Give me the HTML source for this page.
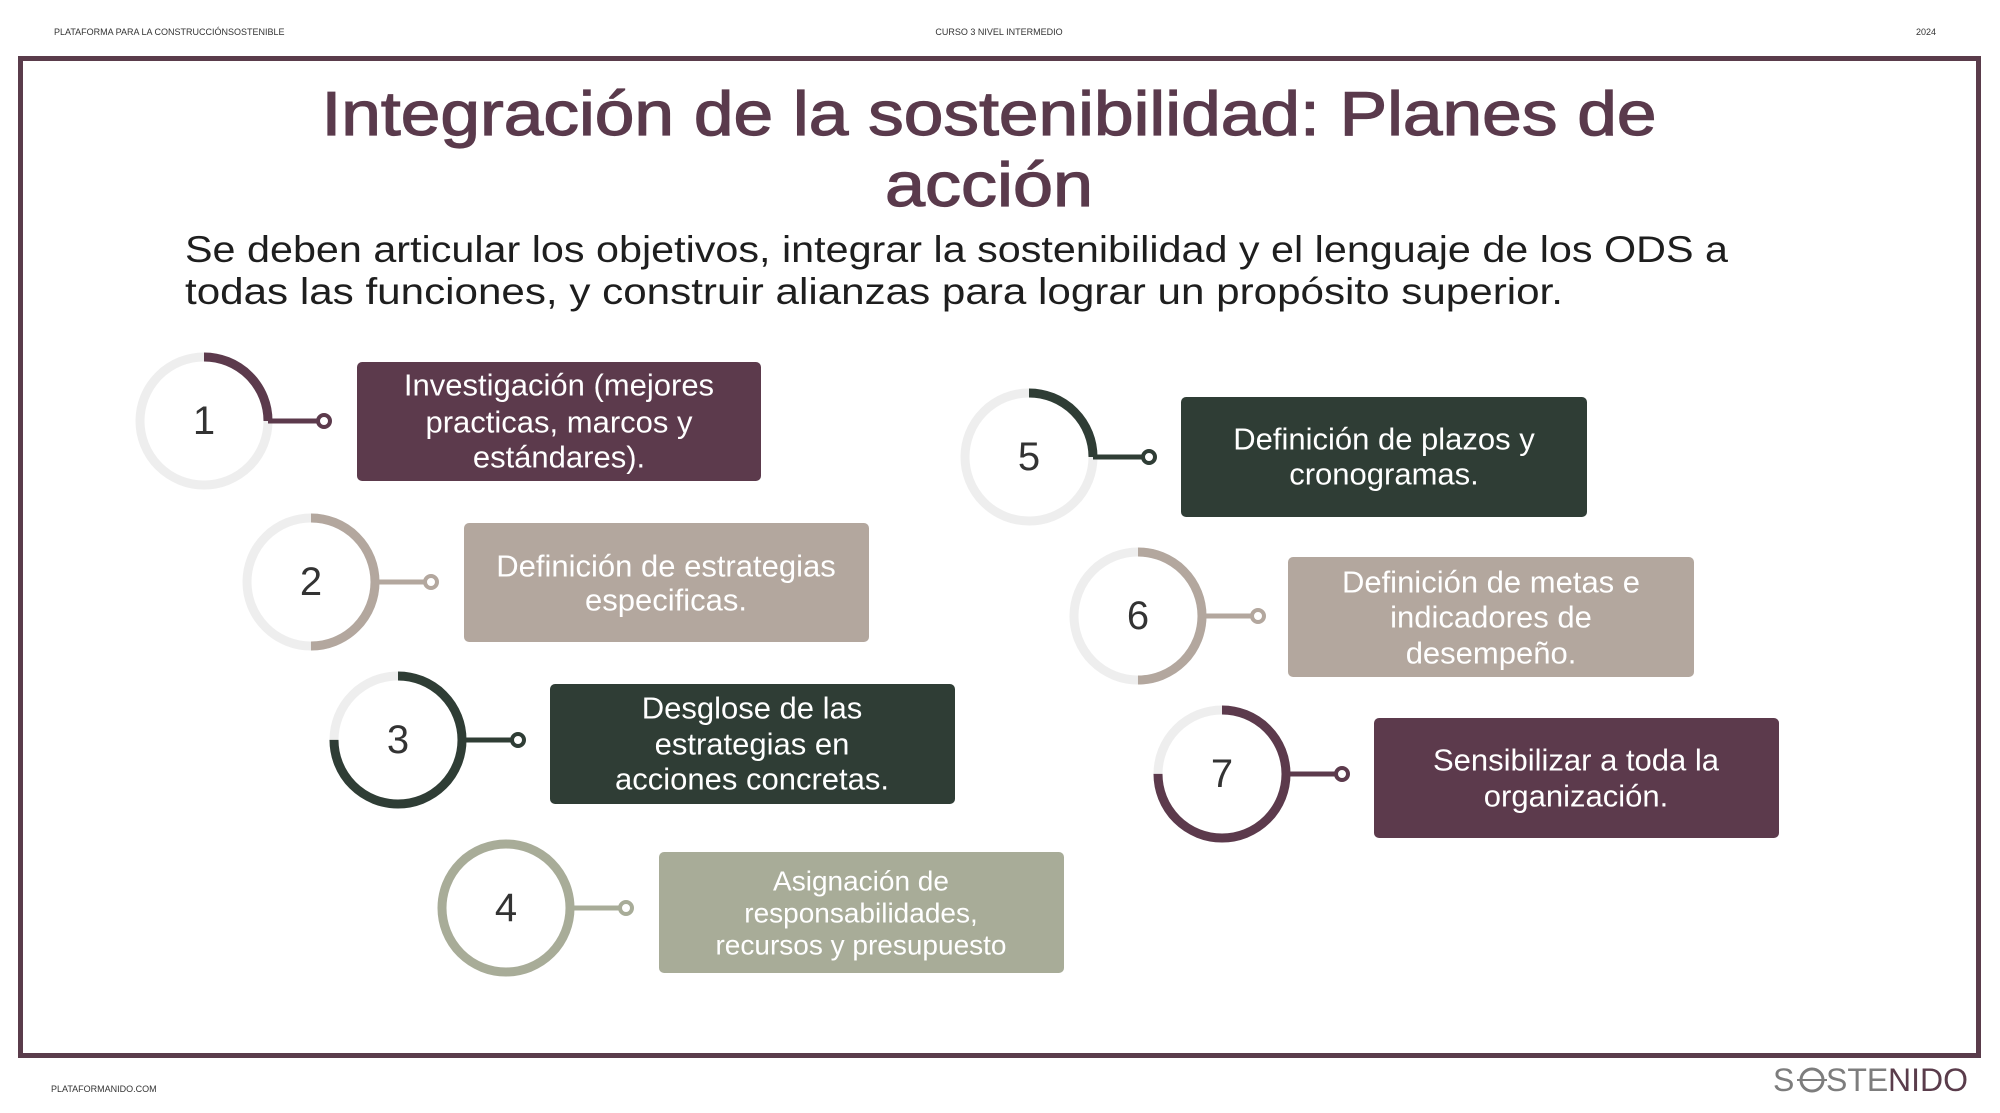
<!DOCTYPE html>
<html><head><meta charset="utf-8"><style>
html,body{margin:0;padding:0;background:#fff;}
svg{display:block;}
text{font-family:"Liberation Sans",sans-serif;}
</style></head><body>
<svg width="2000" height="1113" viewBox="0 0 2000 1113" xmlns="http://www.w3.org/2000/svg">
<rect width="2000" height="1113" fill="#fff"/>
<g font-size="9" fill="#333">
<text x="54" y="35">PLATAFORMA PARA LA CONSTRUCCIÓNSOSTENIBLE</text>
<text x="999" y="35" text-anchor="middle">CURSO 3 NIVEL INTERMEDIO</text>
<text x="1936" y="35" text-anchor="end">2024</text>
<text x="51" y="1092">PLATAFORMANIDO.COM</text>
</g>
<rect x="20.5" y="58.5" width="1958" height="997" fill="none" stroke="#5a3c4b" stroke-width="5"/>
<g fill="#5a3a4c" stroke="#5a3a4c" stroke-width="1.2" font-size="62" text-anchor="middle">
<text x="989" y="135" textLength="1335" lengthAdjust="spacingAndGlyphs">Integración de la sostenibilidad: Planes de</text>
<text x="989" y="206" textLength="208" lengthAdjust="spacingAndGlyphs">acción</text>
</g>
<g fill="#1e1e1e" font-size="37">
<text x="185" y="262" textLength="1543" lengthAdjust="spacingAndGlyphs">Se deben articular los objetivos, integrar la sostenibilidad y el lenguaje de los ODS a</text>
<text x="185" y="304" textLength="1378" lengthAdjust="spacingAndGlyphs">todas las funciones, y construir alianzas para lograr un propósito superior.</text>
</g>

<g fill="none" stroke-width="9">
<circle cx="204" cy="421" r="64" stroke="#eeeeee"/>
<circle cx="204" cy="421" r="64" stroke="#5c3a4c" stroke-dasharray="100.5 402" transform="rotate(-90 204 421)"/>
<line x1="268" y1="421" x2="318" y2="421" stroke="#5c3a4c" stroke-width="5"/>
<circle cx="324" cy="421" r="6" stroke="#5c3a4c" stroke-width="4"/>
<circle cx="311" cy="582" r="64" stroke="#eeeeee"/>
<circle cx="311" cy="582" r="64" stroke="#b3a79e" stroke-dasharray="201 402" transform="rotate(-90 311 582)"/>
<line x1="375" y1="582" x2="425" y2="582" stroke="#b3a79e" stroke-width="5"/>
<circle cx="431" cy="582" r="6" stroke="#b3a79e" stroke-width="4"/>
<circle cx="398" cy="740" r="64" stroke="#eeeeee"/>
<circle cx="398" cy="740" r="64" stroke="#2f3d35" stroke-dasharray="301.6 402" transform="rotate(-90 398 740)"/>
<line x1="462" y1="740" x2="512" y2="740" stroke="#2f3d35" stroke-width="5"/>
<circle cx="518" cy="740" r="6" stroke="#2f3d35" stroke-width="4"/>
<circle cx="506" cy="908" r="64" stroke="#a8ac98"/>
<line x1="570" y1="908" x2="620" y2="908" stroke="#a8ac98" stroke-width="5"/>
<circle cx="626" cy="908" r="6" stroke="#a8ac98" stroke-width="4"/>
<circle cx="1029" cy="457" r="64" stroke="#eeeeee"/>
<circle cx="1029" cy="457" r="64" stroke="#2f3d35" stroke-dasharray="100.5 402" transform="rotate(-90 1029 457)"/>
<line x1="1093" y1="457" x2="1143" y2="457" stroke="#2f3d35" stroke-width="5"/>
<circle cx="1149" cy="457" r="6" stroke="#2f3d35" stroke-width="4"/>
<circle cx="1138" cy="616" r="64" stroke="#eeeeee"/>
<circle cx="1138" cy="616" r="64" stroke="#b3a79e" stroke-dasharray="201 402" transform="rotate(-90 1138 616)"/>
<line x1="1202" y1="616" x2="1252" y2="616" stroke="#b3a79e" stroke-width="5"/>
<circle cx="1258" cy="616" r="6" stroke="#b3a79e" stroke-width="4"/>
<circle cx="1222" cy="774" r="64" stroke="#eeeeee"/>
<circle cx="1222" cy="774" r="64" stroke="#5c3a4c" stroke-dasharray="301.6 402" transform="rotate(-90 1222 774)"/>
<line x1="1286" y1="774" x2="1336" y2="774" stroke="#5c3a4c" stroke-width="5"/>
<circle cx="1342" cy="774" r="6" stroke="#5c3a4c" stroke-width="4"/>
</g>
<g font-size="40" fill="#333" text-anchor="middle" dominant-baseline="central">
<text x="204" y="421">1</text>
<text x="311" y="582">2</text>
<text x="398" y="740">3</text>
<text x="506" y="908">4</text>
<text x="1029" y="457">5</text>
<text x="1138" y="616">6</text>
<text x="1222" y="774">7</text>
</g>

<rect x="357" y="362" width="404" height="119" rx="5" fill="#5c3a4c"/>
<rect x="464" y="523" width="405" height="119" rx="5" fill="#b3a79e"/>
<rect x="550" y="684" width="405" height="120" rx="5" fill="#2f3d35"/>
<rect x="659" y="852" width="405" height="121" rx="5" fill="#a8ac98"/>
<rect x="1181" y="397" width="406" height="120" rx="5" fill="#2f3d35"/>
<rect x="1288" y="557" width="406" height="120" rx="5" fill="#b3a79e"/>
<rect x="1374" y="718" width="405" height="120" rx="5" fill="#5c3a4c"/>
<g fill="#fff" font-size="31" text-anchor="middle" dominant-baseline="central">
<text x="559" y="385">Investigación (mejores</text>
<text x="559" y="422">practicas, marcos y</text>
<text x="559" y="457">estándares).</text>
<text x="666" y="566">Definición de estrategias</text>
<text x="666" y="600">especificas.</text>
<text x="752" y="708">Desglose de las</text>
<text x="752" y="744">estrategias en</text>
<text x="752" y="779">acciones concretas.</text>
<text x="1384" y="439">Definición de plazos y</text>
<text x="1384" y="474">cronogramas.</text>
<text x="1491" y="582">Definición de metas e</text>
<text x="1491" y="617">indicadores de</text>
<text x="1491" y="653">desempeño.</text>
<text x="1576" y="760">Sensibilizar a toda la</text>
<text x="1576" y="796">organización.</text>
</g>
<g fill="#fff" font-size="28" text-anchor="middle" dominant-baseline="central">
<text x="861" y="881">Asignación de</text>
<text x="861" y="913">responsabilidades,</text>
<text x="861" y="945">recursos y presupuesto</text>
</g>

<g font-size="32" dominant-baseline="central">
<text x="1773" y="1080" fill="#7d7d7d">S</text>
<circle cx="1812" cy="1080" r="11" fill="none" stroke="#7d7d7d" stroke-width="3"/>
<line x1="1797" y1="1080" x2="1827" y2="1080" stroke="#7d7d7d" stroke-width="2"/>
<text x="1826" y="1080" fill="#7d7d7d">STE</text>
<text x="1888" y="1080" fill="#5a3c4b">NIDO</text>
</g>
</svg>
</body></html>
